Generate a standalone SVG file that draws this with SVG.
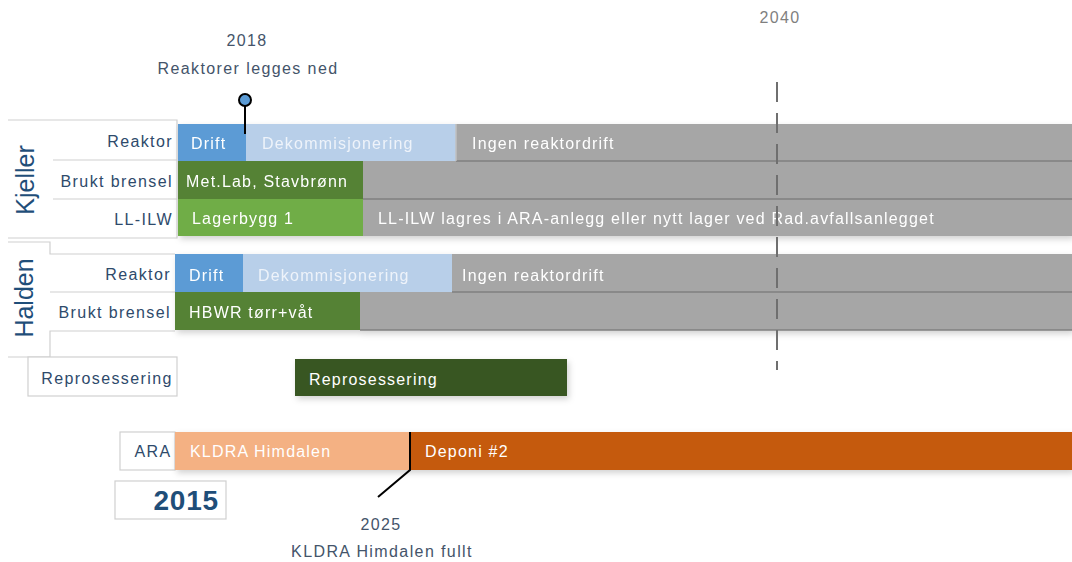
<svg xmlns="http://www.w3.org/2000/svg" width="1072" height="562" viewBox="0 0 1072 562">
<defs>
<style>
.lbl{font-family:"Liberation Sans",Arial,sans-serif;font-size:16px;fill:#2e4a6b;letter-spacing:1.4px}
.bt{font-family:"Liberation Sans",Arial,sans-serif;font-size:16px;fill:#ffffff;letter-spacing:1.2px}
.ann{font-family:"Liberation Sans",Arial,sans-serif;font-size:16px;fill:#44546a;text-anchor:middle;letter-spacing:1.4px}
.grp{font-family:"Liberation Sans",Arial,sans-serif;font-size:25px;fill:#1f4e79;text-anchor:middle}
.frame{fill:none;stroke:#d0d0d0;stroke-width:1.2}
.sep{stroke:#7f7f7f;stroke-width:1.5}
</style>
<filter id="sh" x="-5%" y="-20%" width="110%" height="160%">
<feDropShadow dx="2" dy="3" stdDeviation="3" flood-color="#000" flood-opacity="0.18"/>
</filter>
</defs>

<g id="annotation-2040">
<text x="780" y="23" class="ann" style="fill:#7f7f7f">2040</text>
</g>

<g id="annotation-2018">
<text x="247" y="46" class="ann">2018</text>
<text x="248" y="74" class="ann">Reaktorer legges ned</text>
</g>

<g id="kjeller-labels">
<path class="frame" d="M8 120 H177 V238 H8"/>
<line class="frame" x1="53" y1="160" x2="177" y2="160"/>
<line class="frame" x1="53" y1="199" x2="177" y2="199"/>
<text class="grp" transform="translate(34 180) rotate(-90)">Kjeller</text>
<text class="lbl" x="173" y="147" text-anchor="end">Reaktor</text>
<text class="lbl" x="173" y="187" text-anchor="end">Brukt brensel</text>
<text class="lbl" x="173" y="225" text-anchor="end">LL-ILW</text>
</g>

<g id="kjeller-bars" filter="url(#sh)">
<rect x="178" y="124" width="68" height="37" fill="#5b9bd5"/>
<rect x="246" y="124" width="210" height="37" fill="#b8cfe9"/>
<rect x="456" y="124" width="616" height="37" fill="#a6a6a6"/>
<rect x="178" y="161" width="185" height="38" fill="#548235"/>
<rect x="363" y="161" width="709" height="38" fill="#a6a6a6"/>
<rect x="178" y="199" width="185" height="37" fill="#70ad47"/>
<rect x="363" y="199" width="709" height="37" fill="#a6a6a6"/>
<line class="sep" x1="456" y1="161" x2="1072" y2="161"/>
<line class="sep" x1="363" y1="199" x2="1072" y2="199"/>
<line class="sep" x1="456" y1="124" x2="456" y2="161" style="stroke:#c0c0c0"/>
<text class="bt" x="191" y="149">Drift</text>
<text class="bt" x="262" y="149" style="fill:#eef3fa">Dekommisjonering</text>
<text class="bt" x="472" y="149">Ingen reaktordrift</text>
<text class="bt" x="186" y="187">Met.Lab, Stavbrønn</text>
<text class="bt" x="192" y="224">Lagerbygg 1</text>
<text class="bt" x="378" y="224">LL-ILW lagres i ARA-anlegg eller nytt lager ved Rad.avfallsanlegget</text>
</g>

<g id="halden-labels">
<path class="frame" d="M8 242 H50 V254 H175"/>
<line class="frame" x1="50" y1="292" x2="175" y2="292"/>
<path class="frame" d="M175 331 H50 V357 H8"/>
<text class="grp" transform="translate(33 298) rotate(-90)">Halden</text>
<text class="lbl" x="171" y="280" text-anchor="end">Reaktor</text>
<text class="lbl" x="171" y="318" text-anchor="end">Brukt brensel</text>
</g>

<g id="halden-bars" filter="url(#sh)">
<rect x="175" y="254" width="68" height="38" fill="#5b9bd5"/>
<rect x="243" y="254" width="209" height="38" fill="#b8cfe9"/>
<rect x="452" y="254" width="620" height="38" fill="#a6a6a6"/>
<rect x="175" y="292" width="185" height="38" fill="#548235"/>
<rect x="360" y="292" width="712" height="38" fill="#a6a6a6"/>
<line class="sep" x1="452" y1="292" x2="1072" y2="292"/>
<line class="sep" x1="360" y1="330" x2="1072" y2="330"/>
<text class="bt" x="189" y="281">Drift</text>
<text class="bt" x="258" y="281" style="fill:#eef3fa">Dekommisjonering</text>
<text class="bt" x="462" y="281">Ingen reaktordrift</text>
<text class="bt" x="189" y="318">HBWR tørr+våt</text>
</g>

<g id="reprosessering">
<rect x="28" y="357" width="149" height="39" fill="#fff" stroke="#d0d0d0" stroke-width="1.2"/>
<text class="lbl" x="107" y="384" text-anchor="middle">Reprosessering</text>
<rect x="295" y="359" width="272" height="37" fill="#375623" filter="url(#sh)"/>
<text class="bt" x="309" y="385">Reprosessering</text>
</g>

<g id="ara">
<rect x="120" y="432" width="55" height="38" fill="#fff" stroke="#d0d0d0" stroke-width="1.2"/>
<text class="lbl" x="153" y="457" text-anchor="middle">ARA</text>
<g filter="url(#sh)">
<rect x="175" y="432" width="235" height="38" fill="#f4b183"/>
<rect x="410" y="432" width="662" height="38" fill="#c55a11"/>
</g>
<text class="bt" x="190" y="457">KLDRA Himdalen</text>
<text class="bt" x="425" y="457">Deponi #2</text>
</g>

<g id="year-2015">
<rect x="115" y="481" width="111" height="38" fill="#fff" stroke="#d0d0d0" stroke-width="1.2"/>
<text x="219" y="510" text-anchor="end" style="font-family:'Liberation Sans',Arial,sans-serif;font-size:28px;font-weight:bold;fill:#1f4e79;letter-spacing:0.8px">2015</text>
</g>

<g id="annotation-2025">
<text x="381" y="530" class="ann">2025</text>
<text x="382" y="557" class="ann">KLDRA Himdalen fullt</text>
</g>

<g id="connectors">
<line x1="777" y1="82" x2="777" y2="370" stroke="#6f6f6f" stroke-width="2" stroke-dasharray="20 11"/>
<line x1="245" y1="106" x2="245" y2="134" stroke="#000" stroke-width="2"/>
<circle cx="245" cy="100" r="6" fill="#5b9bd5" stroke="#000" stroke-width="2"/>
<polyline points="410,432 410,470 378,497" fill="none" stroke="#000" stroke-width="2"/>
</g>
</svg>
